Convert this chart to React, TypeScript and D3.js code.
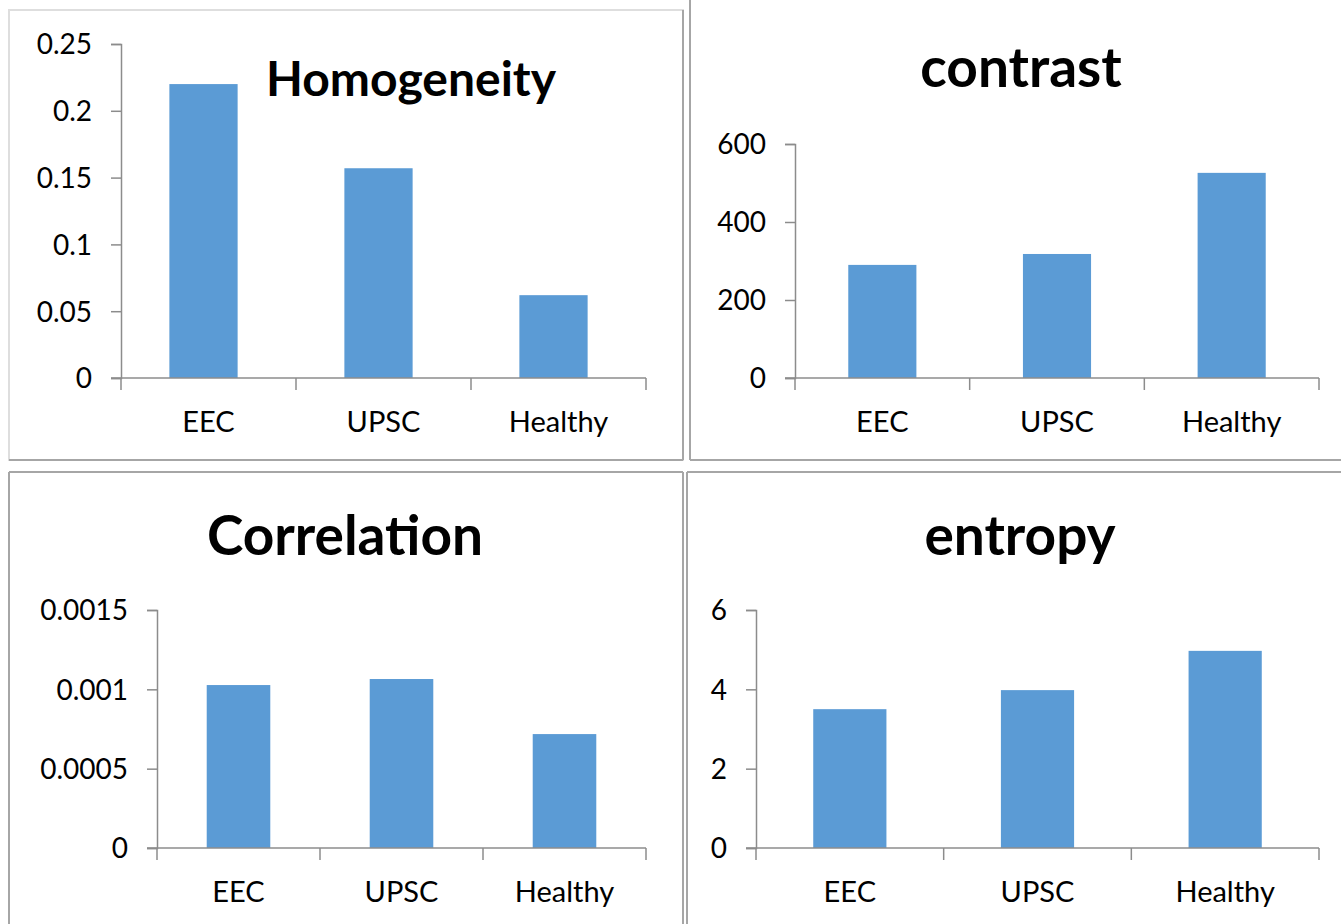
import React, { useEffect, useRef } from 'react';
import * as d3 from 'd3';

// categories shared by all four panels
const categories = ['EEC', 'UPSC', 'Healthy'];

// values
const homogeneity = [0.22, 0.157, 0.062];
const contrast = [290, 318, 526];
const correlation = [0.001027, 0.001065, 0.000718];
const entropy = [3.5, 3.98, 4.97];

const homogeneityTicks = [0, 0.05, 0.1, 0.15, 0.2, 0.25];
const contrastTicks = [0, 200, 400, 600];
const correlationTicks = [0, 0.0005, 0.001, 0.0015];
const entropyTicks = [0, 2, 4, 6];

const BAR = '#5b9bd5';
const AXIS = '#8c8c8c';
const FONT = 'Lato, "Open Sans", sans-serif';

type PanelProps = {
  title: string;
  titleSize: number;
  titleX: number;
  titleY: number;
  values: number[];
  ticks: number[];
  left: number;
  right: number;
  top: number;
  bottom: number;
  shift?: number;
};

const Panel = (props: PanelProps) => {
  const ref = useRef<SVGGElement>(null);
  const { title, titleSize, titleX, titleY, values, ticks, left, right, top, bottom, shift = 0 } = props;

  useEffect(() => {
    const g = d3.select(ref.current);
    g.selectAll('*').remove();

    const x = d3.scaleBand<string>().domain(categories).range([left, right]).padding(0);
    const y = d3.scaleLinear().domain([0, d3.max(ticks) as number]).range([bottom, top]);

    // bars, about 39% of each category slot
    const bw = x.bandwidth() * 0.39;
    g.selectAll('rect.bar')
      .data(values)
      .enter()
      .append('rect')
      .attr('class', 'bar')
      .attr('x', (d, i) => (x(categories[i]) as number) + x.bandwidth() / 2 - bw / 2 + shift)
      .attr('y', d => y(d))
      .attr('width', bw)
      .attr('height', d => bottom - y(d))
      .attr('fill', BAR);

    // y axis
    const yAxis = g.append('g')
      .attr('transform', `translate(${left},0)`)
      .call(d3.axisLeft(y).tickValues(ticks).tickSize(10).tickPadding(19).tickFormat(d => String(d)));
    yAxis.select('.domain').attr('stroke', AXIS).attr('stroke-width', 1.5);
    yAxis.selectAll('line').attr('stroke', AXIS).attr('stroke-width', 1.5);
    yAxis.selectAll('text')
      .attr('font-family', FONT)
      .attr('font-size', 28)
      .attr('fill', '#000')
      .attr('dy', '0.35em');

    // x axis line
    g.append('line')
      .attr('x1', left - 10).attr('x2', right)
      .attr('y1', bottom).attr('y2', bottom)
      .attr('stroke', AXIS).attr('stroke-width', 1.5);

    // category boundary ticks
    const bounds = categories.map(c => x(c) as number).concat([right]);
    g.selectAll('line.xt')
      .data(bounds)
      .enter()
      .append('line')
      .attr('x1', d => d).attr('x2', d => d)
      .attr('y1', bottom).attr('y2', bottom + 12)
      .attr('stroke', AXIS).attr('stroke-width', 1.5);

    g.selectAll('text.cat')
      .data(categories)
      .enter()
      .append('text')
      .attr('x', d => (x(d) as number) + x.bandwidth() / 2)
      .attr('y', bottom + 54)
      .attr('text-anchor', 'middle')
      .attr('font-family', FONT)
      .attr('font-size', 29)
      .text(d => d);

    g.append('text')
      .attr('x', titleX)
      .attr('y', titleY)
      .attr('text-anchor', 'middle')
      .attr('font-family', FONT)
      .attr('font-weight', 'bold')
      .attr('font-size', titleSize)
      .text(title);
  }, []);

  return <g ref={ref}></g>;
};

const App = () => {
  return (
    <svg width={1341} height={924} style={{ position: 'absolute', left: 0, top: 0, background: '#fff' }}>
      <rect x={0} y={0} width={1341} height={924} fill="#fff" />
      {/* panel frames */}
      <g fill="none" stroke="#a6a6a6" strokeWidth={2}>
        <rect x={9} y={10} width={674} height={450} stroke="#dedede" />
        <line x1={9} y1={460} x2={683} y2={460} />
        <line x1={683} y1={10} x2={683} y2={460} />
        <line x1={690} y1={0} x2={690} y2={460} />
        <line x1={690} y1={460} x2={1341} y2={460} />
        <line x1={9} y1={472} x2={683} y2={472} />
        <line x1={9} y1={472} x2={9} y2={924} />
        <line x1={683} y1={472} x2={683} y2={924} />
        <line x1={687} y1={472} x2={1341} y2={472} />
        <line x1={687} y1={472} x2={687} y2={924} />
      </g>
      <Panel title="Homogeneity" titleSize={48} titleX={411} titleY={96} values={homogeneity} ticks={homogeneityTicks}
        left={121} right={646} top={44} bottom={378} shift={-5} />
      <Panel title="contrast" titleSize={55} titleX={1021} titleY={87} values={contrast} ticks={contrastTicks}
        left={795} right={1319} top={144} bottom={378} />
      <Panel title="Correlation" titleSize={55} titleX={345} titleY={555} values={correlation} ticks={correlationTicks}
        left={157} right={646} top={610} bottom={848} />
      <Panel title="entropy" titleSize={55} titleX={1020} titleY={555} values={entropy} ticks={entropyTicks}
        left={756} right={1319} top={610} bottom={848} />
    </svg>
  );
};

export default App;
